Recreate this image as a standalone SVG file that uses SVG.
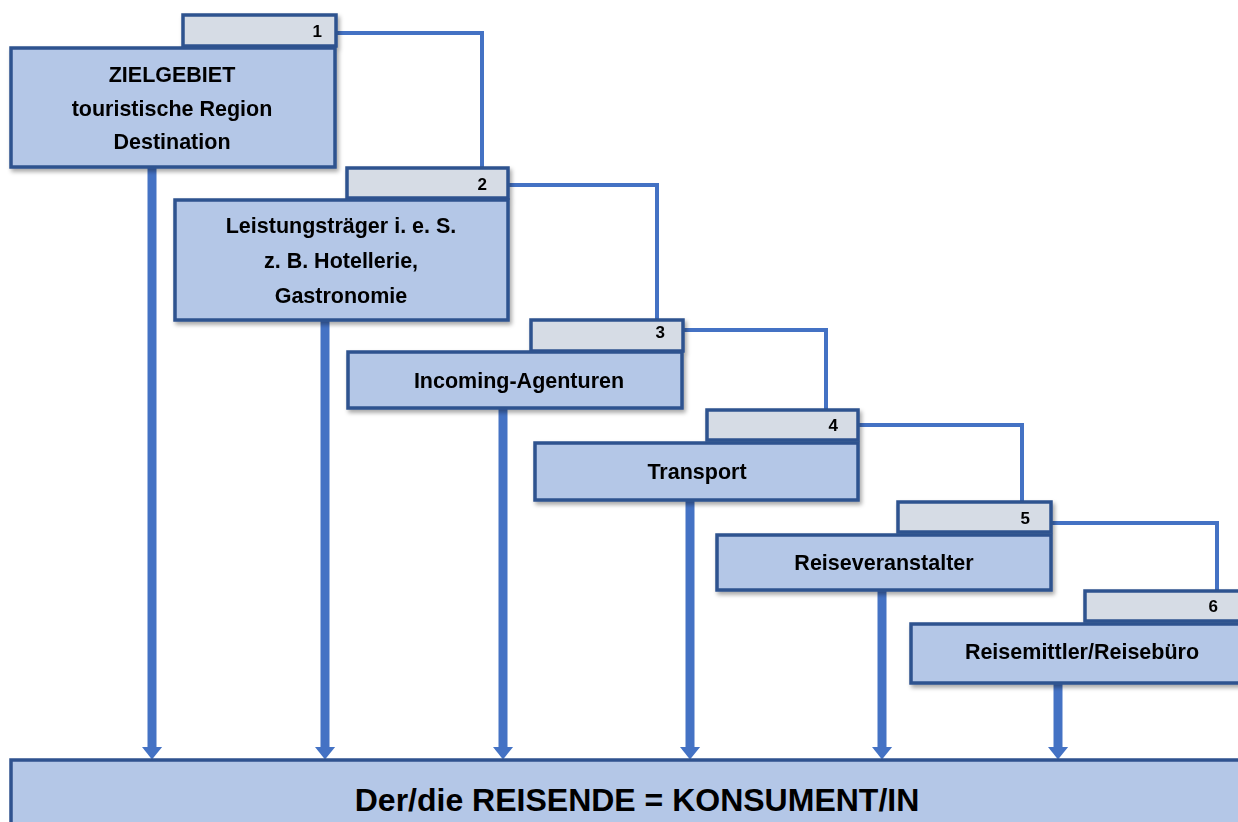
<svg xmlns="http://www.w3.org/2000/svg" width="1238" height="822" viewBox="0 0 1238 822">
<defs>
<filter id="sh" x="-10%" y="-10%" width="120%" height="130%">
<feDropShadow dx="2" dy="3" stdDeviation="2" flood-color="#000" flood-opacity="0.35"/>
</filter>
<marker id="ah" viewBox="0 0 13 21" refX="0.5" refY="10.5" markerWidth="13" markerHeight="21" markerUnits="userSpaceOnUse" orient="auto">
<path d="M0,0 L13,10.5 L0,21 Z" fill="#4472C4"/>
</marker>
<style>
.box{fill:#B4C7E7;stroke:#2F528F;stroke-width:3.5}
.tab{fill:#D6DCE5;stroke:#2F528F;stroke-width:3.5}
.t{font-family:"Liberation Sans",Arial,sans-serif;font-weight:bold;font-size:21.5px;fill:#000;text-anchor:middle;dominant-baseline:central}
.n{font-family:"Liberation Sans",Arial,sans-serif;font-weight:bold;font-size:17px;fill:#000;text-anchor:end;dominant-baseline:central}
.c{fill:none;stroke:#4472C4;stroke-width:4}
.a{fill:none;stroke:#4472C4;stroke-width:9}
</style>
</defs>
<g id="connectors">
<path class="c" d="M336,33 H482 V167"/>
<path class="c" d="M508,185 H657 V320"/>
<path class="c" d="M683,330 H826 V410"/>
<path class="c" d="M858,425 H1022 V502"/>
<path class="c" d="M1051,523 H1217 V590"/>
<line class="a" x1="152" y1="167" x2="152" y2="747" marker-end="url(#ah)"/>
<line class="a" x1="325" y1="320" x2="325" y2="747" marker-end="url(#ah)"/>
<line class="a" x1="503" y1="408" x2="503" y2="747" marker-end="url(#ah)"/>
<line class="a" x1="690" y1="501" x2="690" y2="747" marker-end="url(#ah)"/>
<line class="a" x1="882" y1="590" x2="882" y2="747" marker-end="url(#ah)"/>
<line class="a" x1="1058" y1="683" x2="1058" y2="747" marker-end="url(#ah)"/>
</g>
<g id="node1" filter="url(#sh)">
<rect class="tab" x="183" y="15" width="153" height="31"/>
<text class="n" x="322" y="31">1</text>
<rect class="box" x="11" y="48" width="324" height="119"/>
<text class="t" x="172" y="75">ZIELGEBIET</text>
<text class="t" x="172" y="109">touristische Region</text>
<text class="t" x="172" y="142">Destination</text>
</g>
<g id="node2" filter="url(#sh)">
<rect class="tab" x="347" y="168" width="161" height="30"/>
<text class="n" x="487" y="184">2</text>
<rect class="box" x="175" y="200" width="333" height="120"/>
<text class="t" x="341" y="226">Leistungsträger i. e. S.</text>
<text class="t" x="341" y="261">z. B. Hotellerie,</text>
<text class="t" x="341" y="296">Gastronomie</text>
</g>
<g id="node3" filter="url(#sh)">
<rect class="tab" x="531" y="320" width="152" height="31"/>
<text class="n" x="665" y="332">3</text>
<rect class="box" x="348" y="352" width="334" height="56"/>
<text class="t" x="519" y="381">Incoming-Agenturen</text>
</g>
<g id="node4" filter="url(#sh)">
<rect class="tab" x="707" y="410" width="151" height="30"/>
<text class="n" x="838" y="425">4</text>
<rect class="box" x="535" y="443" width="323" height="57"/>
<text class="t" x="697" y="472">Transport</text>
</g>
<g id="node5" filter="url(#sh)">
<rect class="tab" x="898" y="502" width="153" height="30"/>
<text class="n" x="1030" y="518">5</text>
<rect class="box" x="717" y="535" width="334" height="55"/>
<text class="t" x="884" y="563">Reiseveranstalter</text>
</g>
<g id="node6" filter="url(#sh)">
<rect class="tab" x="1085" y="591" width="160" height="30"/>
<text class="n" x="1218" y="606">6</text>
<rect class="box" x="911" y="624" width="334" height="59"/>
<text class="t" x="1082" y="652">Reisemittler/Reisebüro</text>
</g>
<g id="node7">
<rect class="box" x="11" y="760" width="1240" height="80"/>
<text class="t" x="637" y="800" style="font-size:32px">Der/die REISENDE = KONSUMENT/IN</text>
</g>
</svg>
